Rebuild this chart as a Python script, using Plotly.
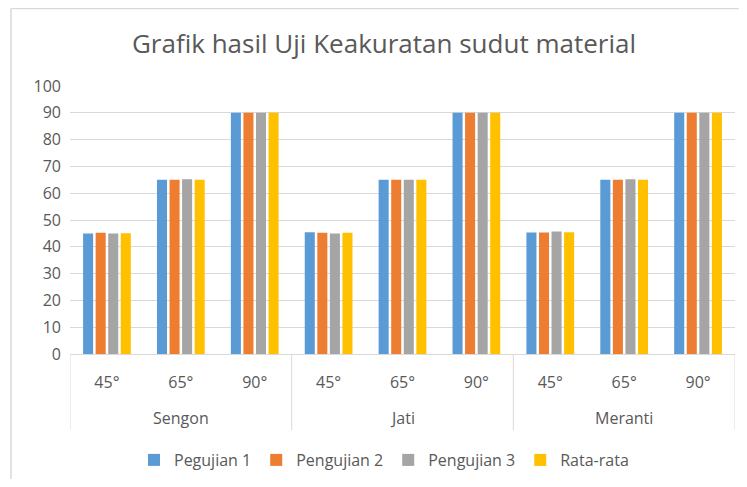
import plotly.graph_objects as go

materials = ["Sengon", "Jati", "Meranti"]
angles = ["45°", "65°", "90°"]
series_names = ["Pegujian 1", "Pengujian 2", "Pengujian 3", "Rata-rata"]
colors = ["#5B9BD5", "#ED7D31", "#A5A5A5", "#FFC000"]

pengujian1 = [45.0, 65.0, 90.0, 45.4, 65.0, 90.0, 45.3, 65.0, 90.0]
pengujian2 = [45.2, 65.0, 90.0, 45.2, 65.0, 90.0, 45.3, 65.0, 90.0]
pengujian3 = [45.0, 65.2, 90.0, 45.0, 65.0, 90.0, 45.7, 65.2, 90.0]
rata_rata = [45.1, 65.0, 90.0, 45.2, 65.0, 90.0, 45.4, 65.0, 90.0]
y_ticks = list(range(0, 101, 10))

values = [pengujian1, pengujian2, pengujian3, rata_rata]

# unique category keys, shown with the angle text only
x_keys = [f"{m} {a}" for m in materials for a in angles]
x_text = [a for _ in materials for a in angles]

W, H = 731, 471
ml, mr, mt, mb = 62, 4, 78, 125
pw, ph = W - ml - mr, H - mt - mb

fig = go.Figure()
for name, col, vals in zip(series_names, colors, values):
    fig.add_trace(go.Bar(x=x_keys, y=vals, name=name,
                         marker=dict(color=col, line=dict(width=0))))

font_family = "Open Sans, Liberation Sans, sans-serif"
grey = "#595959"
line_grey = "#D9D9D9"
fig.update_layout(
    width=W, height=H,
    margin=dict(l=ml, r=mr, t=mt, b=mb, autoexpand=False),
    paper_bgcolor="white", plot_bgcolor="white",
    barmode="group", bargap=0.32, bargroupgap=0.2,
    font=dict(family=font_family, color=grey, size=16),
    title=dict(text="Grafik hasil Uji Keakuratan sudut material",
               x=376 / W, xref="container", xanchor="center",
               y=1 - 36 / H, yref="container", yanchor="middle",
               font=dict(size=26, color=grey, family=font_family)),
    legend=dict(orientation="h", x=(376 - ml) / pw, xanchor="center",
                y=-106 / ph, yanchor="middle",
                font=dict(size=16, color=grey), traceorder="normal"),
    yaxis=dict(range=[0, 100], tickvals=y_ticks, showgrid=True, gridcolor=line_grey,
               gridwidth=1, zeroline=False, showline=False, ticks="",
               ticklabelstandoff=8, tickfont=dict(size=16, color=grey)),
    xaxis=dict(type="category", tickvals=x_keys, ticktext=x_text,
               showline=True, linecolor=line_grey, linewidth=1, showgrid=False,
               ticks="", ticklabelstandoff=14, tickfont=dict(size=16, color=grey),
               range=[-0.5, len(x_keys) - 0.5]),
)

# group labels and dividers under the category axis
n_ang = len(angles)
for i, m in enumerate(materials):
    fig.add_annotation(text=m, x=x_keys[i * n_ang + 1], xref="x",
                       y=-64 / ph, yref="paper", yanchor="middle",
                       showarrow=False, font=dict(size=16, color=grey))
for j in range(len(materials) + 1):
    xpos = j * n_ang - 0.5
    fig.add_shape(type="line", xref="x", yref="paper", x0=xpos, x1=xpos,
                  y0=0, y1=-76 / ph, line=dict(color=line_grey, width=1))

# outer chart frame
fx = (3 - ml) / pw
fy = 1 + (mt - 0.5) / ph
fig.add_shape(type="line", xref="paper", yref="paper", x0=fx, x1=fx, y0=-(mb + 5) / ph, y1=fy,
              line=dict(color=line_grey, width=1.5))
fig.add_shape(type="line", xref="paper", yref="paper", x0=fx, x1=(W - ml) / pw, y0=fy, y1=fy,
              line=dict(color=line_grey, width=1.5))

fig.write_html("out.html")
